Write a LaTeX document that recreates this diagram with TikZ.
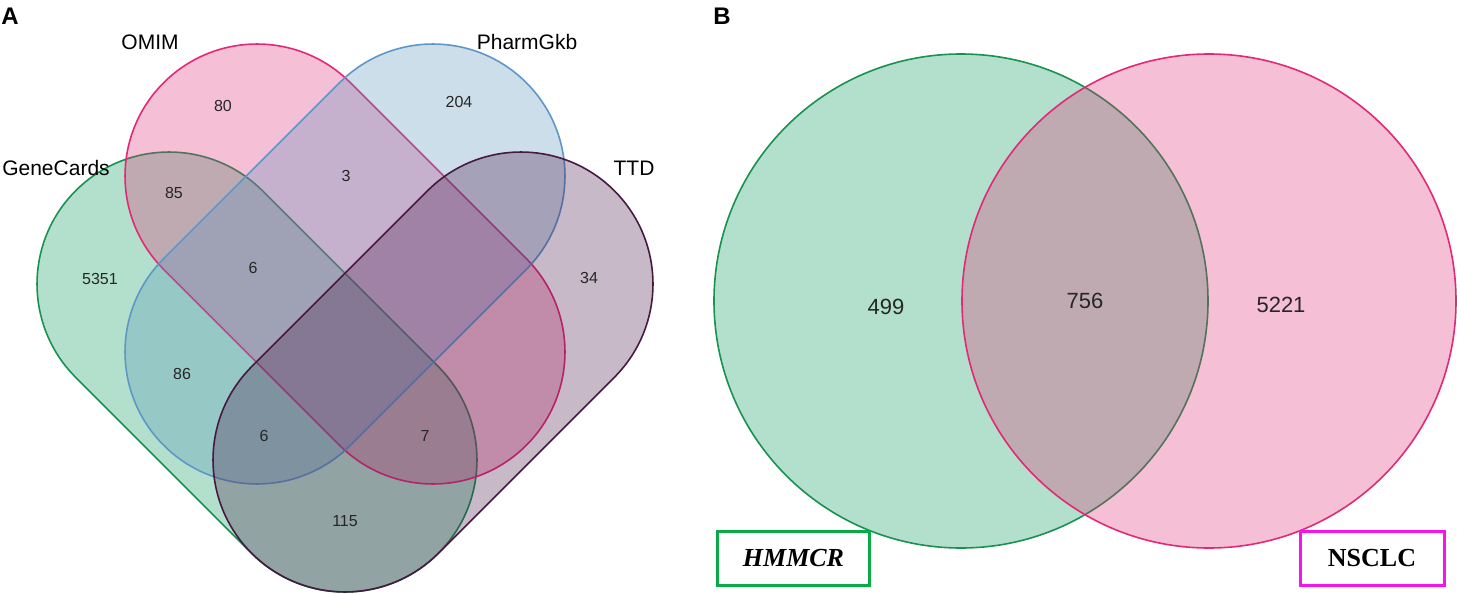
\documentclass[tikz,border=0pt]{standalone}
\usepackage{fontspec}
\setmainfont{Liberation Serif}
\setsansfont{Liberation Sans}
\usepackage{tikz}

\definecolor{geneGreen}{RGB}{0,153,85}
\definecolor{geneLine}{RGB}{25,145,80}
\definecolor{omimPink}{RGB}{222,45,118}
\definecolor{omimLine}{RGB}{228,40,120}
\definecolor{pharmBlue}{RGB}{88,145,188}
\definecolor{pharmLine}{RGB}{95,150,200}
\definecolor{ttdPurple}{RGB}{72,22,72}
\definecolor{ttdLine}{RGB}{70,25,65}
\definecolor{hmmcrLine}{RGB}{10,170,70}
\definecolor{nsclcLine}{RGB}{245,20,235}

\begin{document}
\begin{tikzpicture}[
  x=0.5pt, y=-0.5pt,
  set/.style={
    rectangle, rounded corners=66pt, inner sep=0pt,
    minimum width=256.4pt, minimum height=132pt,
    line width=0.8pt, fill opacity=0.3
  },
  circ/.style={circle, inner sep=0pt, minimum size=247pt, line width=0.8pt, fill opacity=0.3},
  title/.style={font=\sffamily\bfseries\fontsize{12}{14}\selectfont},
  lab/.style={font=\sffamily\fontsize{10.5}{12}\selectfont},
  num/.style={font=\sffamily\fontsize{8}{9}\selectfont, text=black!85},
  bignum/.style={font=\sffamily\fontsize{11}{13}\selectfont, text=black!85},
  tag/.style={
    rectangle, draw, fill=white, line width=1.5pt, inner sep=0pt,
    minimum height=27pt, font=\bfseries\fontsize{13}{15}\selectfont
  }
]
\useasboundingbox (0,0) rectangle (1457,594);

% panel A
\node (titleA) [title] at (10,16) {A};

\node (gene)  [set, draw=geneLine,  fill=geneGreen, rotate=-45] at (257,372) {};
\node (omim)  [set, draw=omimLine,  fill=omimPink,  rotate=-45] at (345,264) {};
\node (pharm) [set, draw=pharmLine, fill=pharmBlue, rotate=45]  at (345,264) {};
\node (ttd)   [set, draw=ttdLine,   fill=ttdPurple, rotate=45]  at (433,372) {};

\node (labOmim)  [lab] at (150,42)  {OMIM};
\node (labPharm) [lab] at (527,42)  {PharmGkb};
\node (labGene)  [lab] at (56,168)  {GeneCards};
\node (labTtd)   [lab] at (634,168) {TTD};

\node (n80)   [num] at (223,106) {80};
\node (n204)  [num] at (459,102) {204};
\node (n85)   [num] at (174,193) {85};
\node (n3)    [num] at (346,176) {3};
\node (n5351) [num] at (100,279) {5351};
\node (n6a)   [num] at (253,268) {6};
\node (n34)   [num] at (589,278) {34};
\node (n86)   [num] at (182,374) {86};
\node (n6b)   [num] at (264,436) {6};
\node (n7)    [num] at (425,436) {7};
\node (n115)  [num] at (345,521) {115};

% panel B
\node (titleB) [title] at (722,16) {B};

\node (hmmcr) [circ, draw=geneLine, fill=geneGreen] at (961,301) {};
\node (nsclc) [circ, draw=omimLine, fill=omimPink]  at (1209,301) {};

\node (n499)  [bignum] at (886,307)  {499};
\node (n756)  [bignum] at (1085,301) {756};
\node (n5221) [bignum] at (1281,305) {5221};

\node (tagHmmcr) [tag, draw=hmmcrLine, minimum width=76pt] at (793.5,558) {\itshape HMMCR};
\node (tagNsclc) [tag, draw=nsclcLine, minimum width=72pt] at (1372,558) {NSCLC};
\end{tikzpicture}
\end{document}
